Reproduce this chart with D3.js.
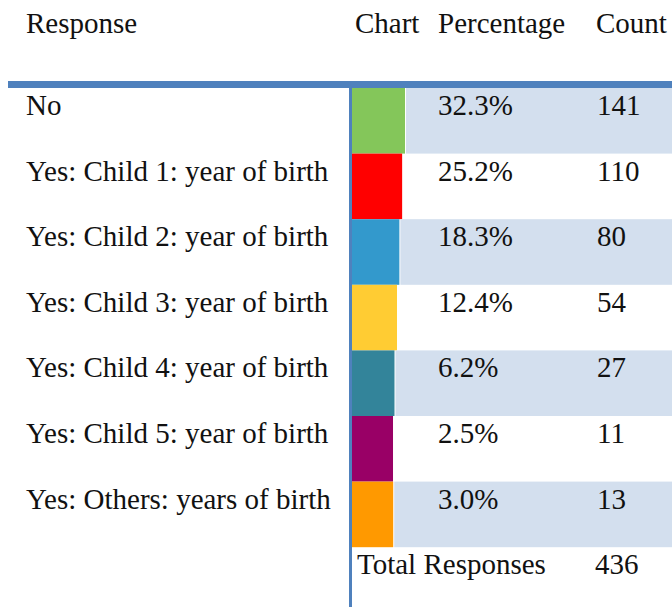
<!DOCTYPE html>
<html>
<head>
<meta charset="utf-8">
<script src="https://cdn.jsdelivr.net/npm/d3@7"></script>
<style>
  body { margin: 0; background: #fff; }
</style>
</head>
<body>
<div id="chart"></div>
<script>
// table data
var responses = ["No", "Yes: Child 1: year of birth", "Yes: Child 2: year of birth",
                 "Yes: Child 3: year of birth", "Yes: Child 4: year of birth",
                 "Yes: Child 5: year of birth", "Yes: Others: years of birth"];
var percentages = [32.3, 25.2, 18.3, 12.4, 6.2, 2.5, 3.0];
var counts = [141, 110, 80, 54, 27, 11, 13];
var headers = ["Response", "Chart", "Percentage", "Count"];
var totalLabel = "Total Responses";
var totalCount = 436;

var colors = ["#84C65A", "#FF0000", "#3399CC", "#FFCC33", "#33849A", "#990066", "#FF9900"];

var width = 672, height = 607;
var rowTop = 88, rowH = 65.6;
var chartX = 352;
var fontFam = "'Liberation Serif', 'Times New Roman', Times, serif";

var svg = d3.select("#chart").append("svg")
    .attr("width", width)
    .attr("height", height)
    .style("font-family", fontFam);

// rows
var y = d3.scaleBand()
    .domain(d3.range(responses.length))
    .range([rowTop, rowTop + rowH * responses.length]);

// bar length - the little bars start at a minimum width
var x = d3.scaleLinear()
    .domain([0, d3.max(percentages)])
    .range([40, 53]);

var colX = { label: 26, chart: 355, pct: 438, count: 596 };

function txt(sel) {
  return sel.style("font-family", fontFam)
    .style("font-size", "29px")
    .style("fill", "#111");
}

// header
txt(svg.selectAll(".hdr")
    .data(headers)
    .enter().append("text")
    .attr("class", "hdr")
    .attr("x", function(d, i) { return [colX.label, colX.chart, colX.pct, colX.count][i]; })
    .attr("y", 33)
    .text(function(d) { return d; }));

var rows = svg.selectAll(".row")
    .data(responses)
    .enter().append("g")
    .attr("class", "row")
    .attr("transform", function(d, i) { return "translate(0," + y(i) + ")"; });

// shaded background for every other row
rows.filter(function(d, i) { return i % 2 == 0; })
    .append("rect")
    .attr("x", function(d) { return chartX + x(percentages[responses.indexOf(d)]) + 1; })
    .attr("y", 0)
    .attr("width", function(d) { return width - (chartX + x(percentages[responses.indexOf(d)]) + 1); })
    .attr("height", y.bandwidth())
    .style("fill", "#D3DFEE");

rows.append("rect")
    .attr("x", chartX)
    .attr("y", 0)
    .attr("width", function(d, i) { return x(percentages[i]); })
    .attr("height", y.bandwidth())
    .style("fill", function(d, i) { return colors[i]; });

txt(rows.append("text")
    .attr("x", colX.label)
    .attr("y", 27)
    .text(function(d) { return d; }));

txt(rows.append("text")
    .attr("x", colX.pct)
    .attr("y", 27)
    .text(function(d, i) { return percentages[i].toFixed(1) + "%"; }));

txt(rows.append("text")
    .attr("x", colX.count + 1)
    .attr("y", 27)
    .text(function(d, i) { return counts[i]; }));

// total row
var totalY = rowTop + rowH * responses.length;
txt(svg.append("text")
    .attr("x", 357)
    .attr("y", totalY + 27)
    .text(totalLabel));
txt(svg.append("text")
    .attr("x", 595)
    .attr("y", totalY + 27)
    .text(totalCount));

// blue rules
svg.append("rect")
    .attr("x", 8).attr("y", 81)
    .attr("width", width - 8).attr("height", 7)
    .style("fill", "#4F81BD");
svg.append("rect")
    .attr("x", 349).attr("y", 88)
    .attr("width", 3).attr("height", height - 88)
    .style("fill", "#4F81BD");
</script>
</body>
</html>
